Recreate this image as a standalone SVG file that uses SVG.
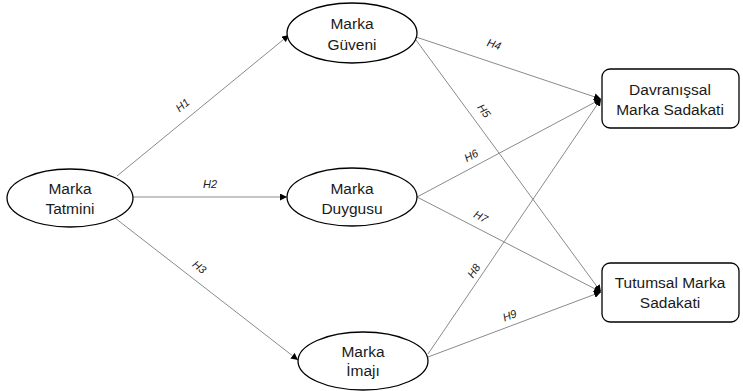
<svg xmlns="http://www.w3.org/2000/svg" width="743" height="391" viewBox="0 0 743 391">
<style>
.node{fill:#fff;stroke:#000;stroke-width:1.3}
.t{font-family:"Liberation Sans",Arial,sans-serif;font-size:15.5px;fill:#1a1a1a;text-anchor:middle}
.l{font-family:"Liberation Sans",Arial,sans-serif;font-size:11px;font-style:italic;fill:#222;text-anchor:middle}
.c{stroke:#8a8a8a;stroke-width:1;fill:none;marker-end:url(#a)}
</style>
<defs>
<marker id="a" viewBox="0 0 10 10" refX="10" refY="5" markerWidth="7" markerHeight="7" markerUnits="userSpaceOnUse" orient="auto">
<path d="M0,0 L10,5 L0,10 Z" fill="#000"/>
</marker>
</defs>
<g id="connectors">
<line class="c" x1="117" y1="176" x2="289" y2="35"/>
<line class="c" x1="133" y1="197" x2="287" y2="197"/>
<line class="c" x1="115" y1="218" x2="298" y2="360"/>
<line class="c" x1="416" y1="37" x2="601" y2="99"/>
<line class="c" x1="416" y1="40" x2="601" y2="292"/>
<line class="c" x1="417" y1="197" x2="601" y2="99"/>
<line class="c" x1="417" y1="197" x2="601" y2="292"/>
<line class="c" x1="428" y1="354" x2="601" y2="99"/>
<line class="c" x1="428" y1="357" x2="601" y2="292"/>
<text class="l" transform="translate(185,108) rotate(-40)">H1</text>
<text class="l" x="210" y="188">H2</text>
<text class="l" transform="translate(197,270) rotate(38)">H3</text>
<text class="l" transform="translate(493,48) rotate(18)">H4</text>
<text class="l" transform="translate(481,113) rotate(53)">H5</text>
<text class="l" transform="translate(473,159) rotate(-28)">H6</text>
<text class="l" transform="translate(479,220) rotate(28)">H7</text>
<text class="l" transform="translate(477,273) rotate(-56)">H8</text>
<text class="l" transform="translate(511,319) rotate(-21)">H9</text>
</g>
<g id="tatmini">
<ellipse class="node" cx="70" cy="198" rx="63" ry="29"/>
<text class="t" x="70" y="194">Marka</text>
<text class="t" x="70" y="214">Tatmini</text>
</g>
<g id="guveni">
<ellipse class="node" cx="352" cy="33" rx="65" ry="30"/>
<text class="t" x="352" y="29">Marka</text>
<text class="t" x="352" y="50">Güveni</text>
</g>
<g id="duygusu">
<ellipse class="node" cx="352" cy="197" rx="65" ry="29"/>
<text class="t" x="352" y="194">Marka</text>
<text class="t" x="352" y="214">Duygusu</text>
</g>
<g id="imaji">
<ellipse class="node" cx="363" cy="361" rx="65" ry="29"/>
<text class="t" x="363" y="357">Marka</text>
<text class="t" x="363" y="376">İmajı</text>
</g>
<g id="davranissal">
<rect class="node" x="602" y="69" width="137" height="59" rx="8"/>
<text class="t" x="670" y="95">Davranışsal</text>
<text class="t" x="670" y="115">Marka Sadakati</text>
</g>
<g id="tutumsal">
<rect class="node" x="602" y="263" width="137" height="59" rx="8"/>
<text class="t" x="670" y="288">Tutumsal Marka</text>
<text class="t" x="670" y="308">Sadakati</text>
</g>
</svg>
